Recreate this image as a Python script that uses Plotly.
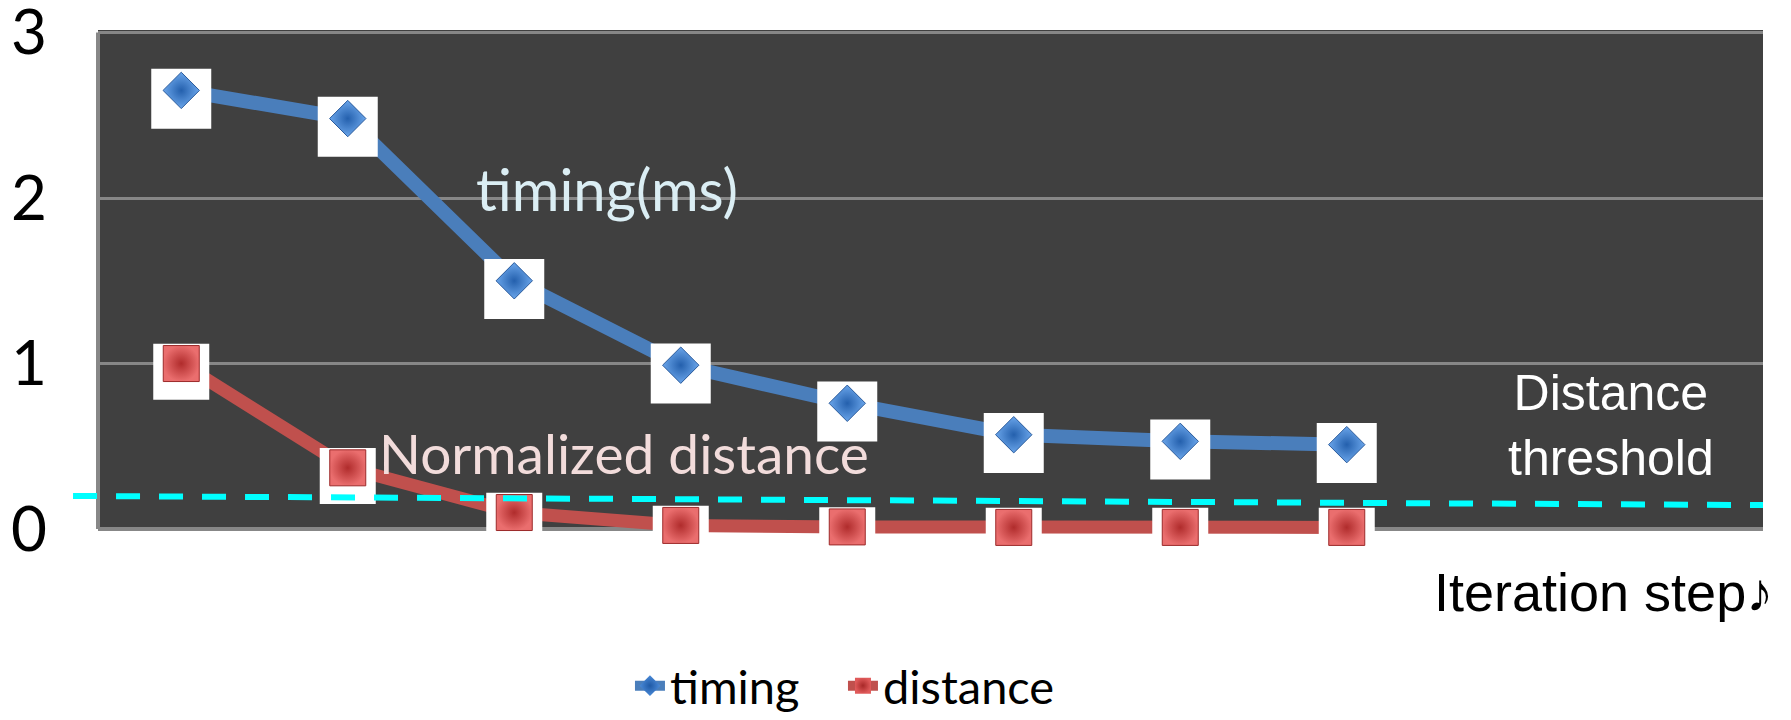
import plotly.graph_objects as go

# Iteration steps (10 category slots, 8 measured)
steps = [1, 2, 3, 4, 5, 6, 7, 8]
timing_ms = [2.65, 2.48, 1.50, 0.99, 0.76, 0.57, 0.53, 0.51]
norm_distance = [1.00, 0.37, 0.10, 0.022, 0.013, 0.010, 0.010, 0.010]

# Threshold line end values (left / right end)
threshold_ends = [0.20, 0.145]

y_ticks = [0, 1, 2, 3]
y_tick_text = ["0", "1", "2", "3"]

Y_LO, Y_HI = -0.06, 3.015
TILE_SHIFT = 0.05  # white tiles sit slightly below each icon

BLUE = "#4a7ebb"
RED = "#c0504d"
GRID = "#878787"
BG = "#404040"
CAL = "Lato, 'Open Sans', sans-serif"
ARIAL = "'Liberation Sans', Arial, sans-serif"

fig = go.Figure()

# series lines (legend entries)
fig.add_trace(go.Scatter(
    x=steps, y=timing_ms, name="timing", mode="lines+markers",
    line=dict(color=BLUE, width=14),
    marker=dict(symbol="diamond", size=22, color="#4a8ad8",
                gradient=dict(type="radial", color="#1f5aa6")),
))
fig.add_trace(go.Scatter(
    x=steps, y=norm_distance, name="distance", mode="lines+markers",
    line=dict(color=RED, width=13),
    marker=dict(symbol="square", size=22, color="#e05a5a",
                gradient=dict(type="radial", color="#a82828")),
))

# white tiles behind the icons
fig.add_trace(go.Scatter(
    x=steps, y=timing_ms, mode="markers", showlegend=False, hoverinfo="skip",
    marker=dict(symbol="square", size=60, color="white", line=dict(width=0)),
    yaxis="y2", cliponaxis=False,
))
fig.add_trace(go.Scatter(
    x=steps, y=norm_distance, mode="markers", showlegend=False, hoverinfo="skip",
    marker=dict(symbol="square", size=56, color="white", line=dict(width=0)),
    yaxis="y2", cliponaxis=False,
))

# icons
fig.add_trace(go.Scatter(
    x=steps, y=timing_ms, mode="markers", showlegend=False,
    marker=dict(symbol="diamond", size=28, color="#6aa5ea",
                gradient=dict(type="radial", color="#2460ad"),
                line=dict(width=1, color="#2a5b9c")),
    yaxis="y3", cliponaxis=False,
))
fig.add_trace(go.Scatter(
    x=steps, y=norm_distance, mode="markers", showlegend=False,
    marker=dict(symbol="square", size=36, color="#ea6e6e",
                gradient=dict(type="radial", color="#b02c2c"),
                line=dict(width=1, color="#9c2a2a")),
    yaxis="y3", cliponaxis=False,
))

shapes = [
    # white strip under the zero line
    dict(type="rect", xref="paper", yref="y", x0=0, x1=1, y0=Y_LO, y1=0,
         fillcolor="white", line=dict(width=0), layer="below"),
    # left plot border
    dict(type="line", xref="paper", yref="y", x0=0, x1=0, y0=0, y1=3,
         line=dict(color=GRID, width=4)),
    # distance threshold
    dict(type="line", xref="paper", yref="y", x0=-0.015, x1=1.0,
         y0=threshold_ends[0], y1=threshold_ends[1],
         line=dict(color="#00ffff", width=6, dash="24px,19px")),
]

annotations = [
    dict(text="timing(ms)", xref="paper", yref="y", x=0.306, y=2.06,
         xanchor="center", yanchor="middle", showarrow=False,
         font=dict(family=CAL, size=58, color="#dbeef4")),
    dict(text="Normalized distance", xref="paper", yref="y", x=0.316, y=0.46,
         xanchor="center", yanchor="middle", showarrow=False,
         font=dict(family=CAL, size=55, color="#f2dcdb")),
    dict(text="Distance<br>threshold", xref="paper", yref="y", x=0.909, y=0.625,
         xanchor="center", yanchor="middle", showarrow=False,
         font=dict(family=ARIAL, size=50, color="white")),
    dict(text="Iteration step♪", xref="paper", yref="paper", x=0.801, y=-0.105,
         xanchor="left", yanchor="middle", showarrow=False,
         font=dict(family=ARIAL, size=54, color="black")),
]

fig.update_layout(
    width=1791, height=720,
    margin=dict(l=98, r=28, t=30, b=181, autoexpand=False),
    paper_bgcolor="white", plot_bgcolor=BG,
    showlegend=True,
    legend=dict(orientation="h", x=0.3195, xanchor="left", y=-0.289,
                yanchor="middle", font=dict(family=CAL, size=47, color="black"),
                bgcolor="rgba(0,0,0,0)", entrywidth=168, entrywidthmode="pixels"),
    xaxis=dict(range=[0.5, 10.5], showgrid=False, zeroline=False,
               showticklabels=False, ticks="", showline=False),
    yaxis=dict(range=[Y_LO, Y_HI], tickvals=y_ticks, ticktext=y_tick_text,
               showgrid=True, gridcolor=GRID, gridwidth=3,
               zeroline=True, zerolinecolor=GRID, zerolinewidth=4,
               showline=False, ticks="", ticklabelstandoff=50,
               ticklabeloverflow="allow",
               tickfont=dict(family=CAL, size=62, color="black")),
    yaxis2=dict(range=[Y_LO + TILE_SHIFT, Y_HI + TILE_SHIFT], overlaying="y",
                visible=False),
    yaxis3=dict(range=[Y_LO, Y_HI], overlaying="y", visible=False),
    shapes=shapes,
    annotations=annotations,
)

fig.write_html("out.html")
